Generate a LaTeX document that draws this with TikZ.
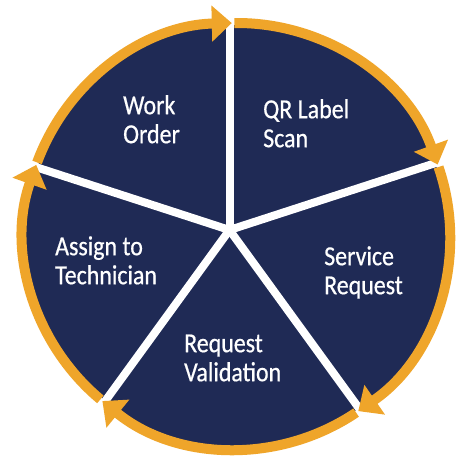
\documentclass[tikz,border=0pt]{standalone}
\usepackage{fontspec}
\setmainfont{Carlito}[FakeStretch=0.87,FakeBold=0.6]
\usetikzlibrary{arrows.meta}
\definecolor{navy}{HTML}{1F2A55}
\definecolor{gold}{HTML}{EFA52A}
\begin{document}
\begin{tikzpicture}[x=1pt,y=1pt,
  ring/.style={draw=gold, line width=10pt, -{Triangle[width=35pt,length=20pt]}},
  spoke/.style={draw=white, line width=8pt},
  lbl/.style={text=white, align=left, anchor=north west, inner sep=0pt, font=\fontsize{27.5}{29}\selectfont}]
\useasboundingbox (0,0) rectangle (474,474);
\fill[white] (0,0) rectangle (474,474);
\coordinate (C) at (237,238);
\coordinate (H) at (229.5,244);
\fill[navy] (C) circle[radius=211];
\begin{scope}
  \clip (C) circle[radius=219];
  \foreach \a/\n in {90/1,18/2,-54/3,-126/4,162/5}
    \draw[spoke] (H) -- ++(\a:260) coordinate (s\n);
\end{scope}
\draw[ring] ([shift={(90.7:213)}]C) arc[start angle=90.7, end angle=19.6, radius=213];
\draw[ring] ([shift={(18.9:213)}]C) arc[start angle=18.9, end angle=-55.3, radius=213];
\draw[ring] ([shift={(-56.0:213)}]C) arc[start angle=-56.0, end angle=-129.2, radius=213];
\draw[ring] ([shift={(-129.9:213)}]C) arc[start angle=-129.9, end angle=-199.5, radius=213];
\draw[ring] ([shift={(159.8:213)}]C) arc[start angle=159.8, end angle=91.4, radius=213];
\node[lbl] (wo) at (123,380.3) {\strut Work\\\strut Order};
\node[lbl] (qr) at (263,376.3) {\strut QR Label\\\strut Scan};
\node[lbl] (sr) at (324,229.3) {\strut Service\\\strut Request};
\node[lbl] (rv) at (184,142.3) {\strut Request\\\strut Validation};
\node[lbl] (at) at (55,239.3) {\strut Assign to\\\strut Technician};
\end{tikzpicture}
\end{document}
